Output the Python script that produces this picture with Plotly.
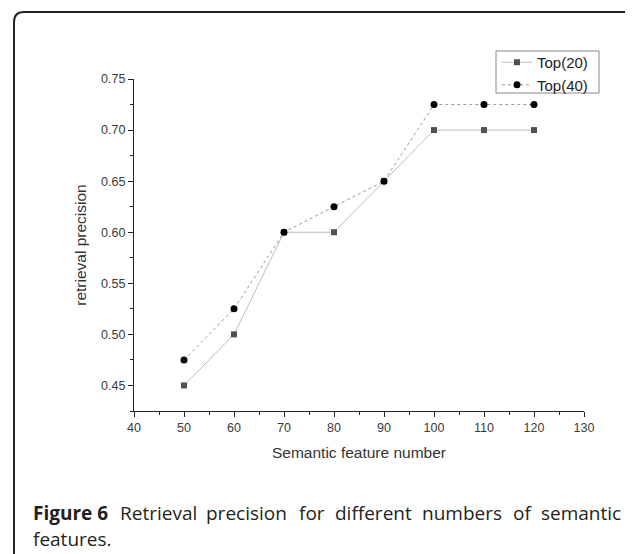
import plotly.graph_objects as go

features = [50, 60, 70, 80, 90, 100, 110, 120]
top20 = [0.45, 0.50, 0.60, 0.60, 0.65, 0.70, 0.70, 0.70]
top40 = [0.475, 0.525, 0.60, 0.625, 0.65, 0.725, 0.725, 0.725]
series_names = ["Top(20)", "Top(40)"]
x_ticks = [40, 50, 60, 70, 80, 90, 100, 110, 120, 130]
y_ticks = [0.45, 0.50, 0.55, 0.60, 0.65, 0.70, 0.75]
caption_line1 = ["<b>Figure 6</b>", "Retrieval", "precision", "for", "different",
                 "numbers", "of", "semantic"]
caption_line2 = "features."

# the page body adds an 8px margin; everything below is in screen pixels
OFF = 8
W, H = 633 - OFF, 554 - OFF
L, R, T, B = 134, 584, 79, 411  # plot area (screen pixels)

def px(x):
    return (x - L) / (R - L)

def py(y):
    return (B - y) / (B - T)

fig = go.Figure()
fig.add_trace(go.Scatter(
    x=features, y=top20, name=series_names[0], mode="lines+markers",
    line=dict(color="#bdbdbd", width=1),
    marker=dict(symbol="square", size=6, color="#505050"),
))
fig.add_trace(go.Scatter(
    x=features, y=top40, name=series_names[1], mode="lines+markers",
    line=dict(color="#9a9a9a", width=1, dash="dot"),
    marker=dict(symbol="circle", size=7, color="#000000"),
))

axis_common = dict(
    showgrid=False, zeroline=False, showline=True, linecolor="#222", linewidth=1.3,
    ticks="outside", ticklen=5, tickwidth=1, tickcolor="#222",
    tickfont=dict(family="Liberation Sans, Arial", size=12.5, color="#3a3a3a"),
)
title_font = dict(family="Liberation Sans, Arial", size=15.5, color="#333")
fig.update_xaxes(
    range=[40, 130], tickmode="array", tickvals=x_ticks,
    ticktext=[str(v) for v in x_ticks],
    minor=dict(dtick=5, tick0=40, ticks="outside", ticklen=3, tickcolor="#222"),
    title=dict(text="Semantic feature number", standoff=12, font=title_font),
    **axis_common,
)
fig.update_yaxes(
    range=[0.425, 0.75], tickmode="array", tickvals=y_ticks,
    ticktext=["%.2f" % v for v in y_ticks],
    minor=dict(dtick=0.025, tick0=0.425, ticks="outside", ticklen=3, tickcolor="#222"),
    title=dict(text="retrieval precision", standoff=10, font=title_font),
    **axis_common,
)

# rounded frame around the figure
x0, y0, x1, y1, r = 14, 12, 634, 620, 10
path = (
    f"M {px(x0)},{py(y1)} L {px(x0)},{py(y0 + r)} "
    f"Q {px(x0)},{py(y0)} {px(x0 + r)},{py(y0)} "
    f"L {px(x1 - r)},{py(y0)} Q {px(x1)},{py(y0)} {px(x1)},{py(y0 + r)} "
    f"L {px(x1)},{py(y1)}"
)
fig.add_shape(type="path", path=path, xref="paper", yref="paper",
              line=dict(color="#222", width=2))

# legend box
fig.add_shape(type="rect", xref="paper", yref="paper",
              x0=px(496), x1=px(599), y0=py(93), y1=py(51),
              line=dict(color="#888", width=1), fillcolor="rgba(0,0,0,0)")

# caption, justified by placing each word
cap_font = dict(family="Open Sans", size=19, color="#231f20")
word_x = [31, 117.5, 203.5, 296.5, 333, 419.5, 510.5, 539]
for word, wx in zip(caption_line1, word_x):
    fig.add_annotation(
        text=word, xref="paper", yref="paper", x=px(wx), y=py(513),
        xanchor="left", yanchor="middle", showarrow=False, font=cap_font,
    )
fig.add_annotation(
    text=caption_line2, xref="paper", yref="paper", x=px(31), y=py(539),
    xanchor="left", yanchor="middle", showarrow=False, font=cap_font,
)

fig.update_layout(
    width=W, height=H,
    margin=dict(l=L - OFF, r=W - (R - OFF), t=T - OFF, b=H - (B - OFF)),
    paper_bgcolor="white", plot_bgcolor="white",
    showlegend=True,
    legend=dict(
        x=px(497), y=py(46), xanchor="left", yanchor="top",
        borderwidth=0, bgcolor="rgba(0,0,0,0)",
        font=dict(family="Liberation Sans, Arial", size=15, color="#222"),
        tracegroupgap=0, itemwidth=30,
    ),
)

fig.write_html("out.html")
